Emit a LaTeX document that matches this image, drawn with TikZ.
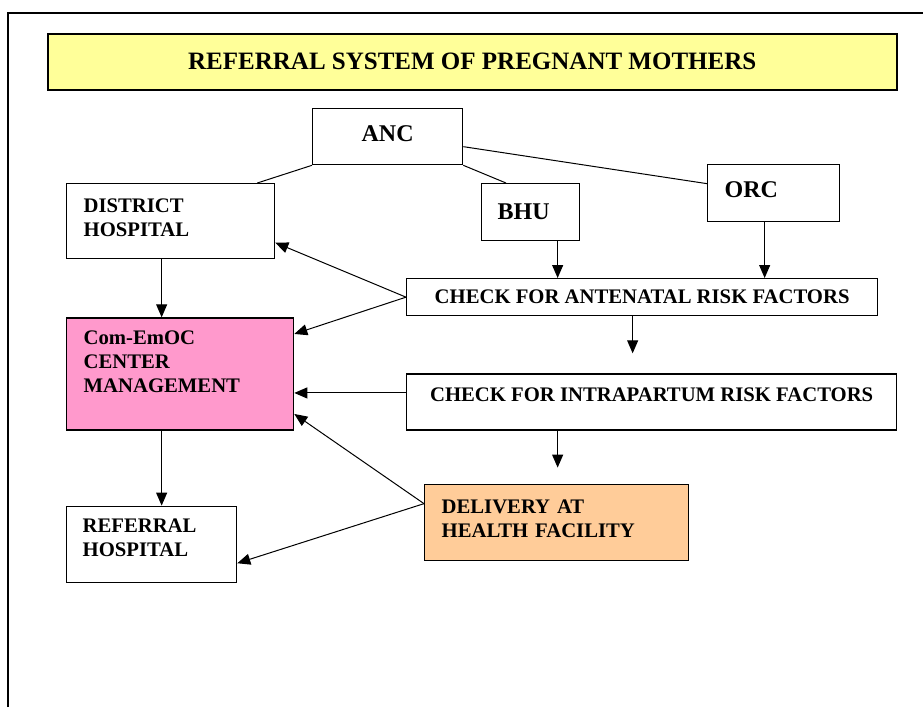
\documentclass[tikz,border=0pt]{standalone}
\usepackage{fontspec}
\setmainfont{Liberation Serif}
\usepackage{tikz}
\usetikzlibrary{arrows.meta,positioning}
\definecolor{kuning}{HTML}{FFFF99}
\definecolor{merahjambu}{HTML}{FF99CC}
\definecolor{jingga}{HTML}{FFCC99}
\tikzstyle{kotak}=[rectangle, draw=black, line width=1.3pt, inner sep=0pt, font=\bfseries\fontsize{20.7}{24}\selectfont]
\tikzstyle{kiri}=[kotak, align=left]
\tikzstyle{besar}=[font=\bfseries\fontsize{24}{28}\selectfont]
\tikzstyle{garis}=[line width=1pt]

\begin{document}
\begin{tikzpicture}[x=1pt, y=-1pt, >={Triangle[length=13pt,width=11pt]}]
	\useasboundingbox (0,0) rectangle (923,707);
	\draw[line width=1.6pt] (8,707) -- (8,13) -- (923,13);

	\node[kotak, fill=kuning, line width=1.5pt, minimum width=849pt, minimum height=56pt, anchor=north west, font=\bfseries\fontsize{25}{30}\selectfont] (judul) at (47,33) {REFERRAL SYSTEM OF PREGNANT MOTHERS};

	\node[kotak, besar, text depth=6pt, minimum width=150pt, minimum height=56pt, anchor=north west] (anc) at (312,108) {ANC};
	\node[kiri, text width=174pt, text depth=31pt, minimum width=208pt, minimum height=75pt, anchor=north west] (district) at (66,183) {DISTRICT\\HOSPITAL};
	\node[kiri, besar, text width=66pt, minimum width=98pt, minimum height=57pt, anchor=north west] (bhu) at (481,183) {BHU};
	\node[kiri, besar, text width=98pt, text depth=8pt, minimum width=132pt, minimum height=57pt, anchor=north west] (orc) at (707,164) {ORC};

	\node[kotak, minimum width=471pt, minimum height=37pt, anchor=north west] (antenatal) at (406,278) {CHECK FOR ANTENATAL RISK FACTORS};
	\node[kotak, text depth=14pt, minimum width=490pt, minimum height=56pt, below=57pt of antenatal.south west, anchor=north west] (intrapartum) {CHECK FOR INTRAPARTUM RISK FACTORS};

	\node[kiri, fill=merahjambu, text width=193pt, text depth=72pt, minimum width=227pt, minimum height=112pt, below=58pt of district.south west, anchor=north west] (comemoc) {Com-EmOC\\CENTER\\MANAGEMENT};
	\node[kiri, text width=138pt, text depth=37pt, minimum width=170pt, minimum height=76pt, below=75pt of comemoc.south west, anchor=north west] (referral) {REFERRAL\\HOSPITAL};
	\node[kiri, fill=jingga, text width=230pt, text depth=32pt, minimum width=264pt, minimum height=76pt, anchor=north west] (delivery) at (424,484) {DELIVERY AT\\HEALTH FACILITY};

	% dari ANC
	\draw[garis] (anc.south west) -- ([xshift=-18pt]district.north east);
	\draw[garis] (anc.south east) -- ([xshift=25pt]bhu.north west);
	\draw[garis] ([yshift=-10pt]anc.east) -- ([yshift=9.5pt]orc.west);

	\coordinate (bhukeluar) at ([xshift=27pt]bhu.south);
	\coordinate (orckeluar) at ([xshift=-9pt]orc.south);
	\draw[->, garis] (bhukeluar) -- (bhukeluar |- antenatal.north);
	\draw[->, garis] (orckeluar) -- (orckeluar |- antenatal.north);

	\draw[->, garis] ([xshift=-9.5pt]antenatal.south) -- ++(0,37);
	\draw[->, garis] ([xshift=-94pt]intrapartum.south) -- ++(0,37);

	% rujukan
	\draw[->, garis] (antenatal.west) -- ([yshift=-21.5pt]district.east);
	\draw[->, garis] (antenatal.west) -- ([yshift=40pt]comemoc.east);
	\draw[->, garis] ([yshift=9pt]intrapartum.west) -- ([yshift=-19pt]comemoc.east);
	\draw[->, garis] ([yshift=19pt]delivery.west) -- ([yshift=-40pt]comemoc.east);
	\draw[->, garis] ([yshift=19pt]delivery.west) -- ([yshift=-19pt]referral.east);

	\draw[->, garis] ([xshift=-9pt]district.south) -- ([xshift=-18.5pt]comemoc.north);
	\draw[->, garis] ([xshift=-18.5pt]comemoc.south) -- ([xshift=10pt]referral.north);
\end{tikzpicture}
\end{document}
